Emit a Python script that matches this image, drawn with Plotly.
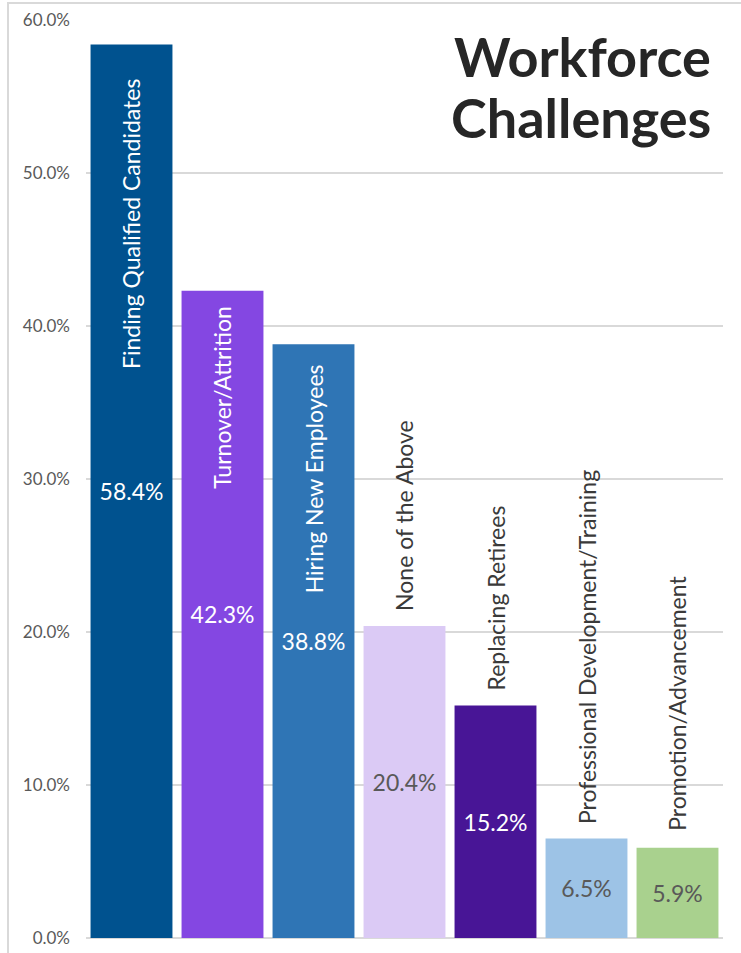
import plotly.graph_objects as go

categories = [
    "Finding Qualified Candidates",
    "Turnover/Attrition",
    "Hiring New Employees",
    "None of the Above",
    "Replacing Retirees",
    "Professional Development/Training",
    "Promotion/Advancement",
]
values = [58.4, 42.3, 38.8, 20.4, 15.2, 6.5, 5.9]
bar_colors = ["#00528F", "#8447E2", "#2F75B5", "#DBCAF5", "#481596", "#9DC3E6", "#A9D18E"]
value_colors = ["#FFFFFF", "#FFFFFF", "#FFFFFF", "#595959", "#FFFFFF", "#595959", "#595959"]
label_inside = [True, True, True, False, False, False, False]
label_gap = [33, 13, 18, 13, 13, 12, 15]
tick_vals = [0, 10, 20, 30, 40, 50, 60]
tick_text = ["0.0%", "10.0%", "20.0%", "30.0%", "40.0%", "50.0%", "60.0%"]

W, H = 741, 953
ML, MR, MT, MB = 86, 18, 20, 15
FONT = "Lato"

fig = go.Figure(
    go.Bar(
        x=categories,
        y=values,
        marker=dict(color=bar_colors, line=dict(width=0)),
        texttemplate="%{y:.1f}%",
        textposition="inside",
        insidetextanchor="middle",
        textangle=0,
        constraintext="none",
        textfont=dict(family=FONT, size=23, color=value_colors),
        hoverinfo="skip",
    )
)

annotations = []
for cat, v, inside, gap in zip(categories, values, label_inside, label_gap):
    annotations.append(
        dict(
            x=cat, y=v, xref="x", yref="y",
            text=cat, textangle=-90, showarrow=False,
            xanchor="center",
            yanchor="top" if inside else "bottom",
            yshift=-gap if inside else gap,
            font=dict(family=FONT, size=23, color="#FFFFFF" if inside else "#3A3A3A"),
        )
    )

pw = W - ML - MR
ph = H - MT - MB
def px_x(p):
    return (p - ML) / pw
def px_y(p):
    return (H - MB - p) / ph

annotations.append(dict(
    x=px_x(713), y=px_y(22), xref="paper", yref="paper",
    text="<b>Workforce</b>", showarrow=False, xanchor="right", yanchor="top",
    font=dict(family=FONT, size=54, color="#262626"),
))
annotations.append(dict(
    x=px_x(713), y=px_y(83), xref="paper", yref="paper",
    text="<b>Challenges</b>", showarrow=False, xanchor="right", yanchor="top",
    font=dict(family=FONT, size=54, color="#262626"),
))

fig.update_layout(
    template="none",
    width=W, height=H, autosize=False,
    margin=dict(l=ML, r=MR, t=MT, b=MB, pad=0),
    paper_bgcolor="white", plot_bgcolor="white",
    bargap=0.1,
    showlegend=False,
    annotations=annotations,
    shapes=[dict(
        type="rect", xref="paper", yref="paper",
        x0=px_x(8), x1=px_x(W + 20), y0=px_y(H + 20), y1=px_y(3),
        line=dict(color="#D9D9D9", width=2), layer="below",
    )],
    xaxis=dict(showticklabels=False, showgrid=False, zeroline=False, showline=False,
               ticks="", automargin=False),
    yaxis=dict(
        range=[0, 60], tickvals=tick_vals, ticktext=tick_text,
        showgrid=True, gridcolor="#D9D9D9", gridwidth=1.5,
        zeroline=True, zerolinecolor="#D9D9D9", zerolinewidth=1.5,
        showline=False, ticks="", ticklabelstandoff=15, automargin=False,
        ticklabeloverflow="allow",
        tickfont=dict(family=FONT, size=17, color="#595959"),
    ),
)

fig.write_html(
    "out.html",
    config={"displayModeBar": False},
    post_script="document.body.style.margin='0';document.body.style.overflow='hidden';",
)
